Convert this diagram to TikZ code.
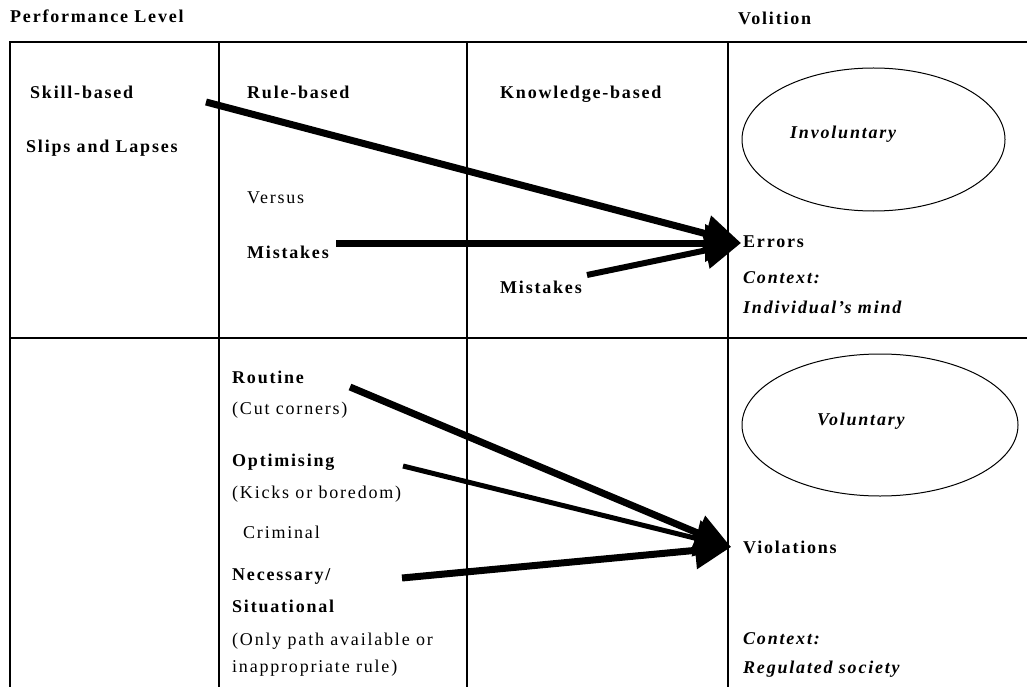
\documentclass[tikz,border=0pt]{standalone}
\usepackage{fontspec}
\setmainfont{Liberation Serif}[LetterSpace=10]
\usetikzlibrary{arrows.meta,shapes.geometric}
\begin{document}
\begin{tikzpicture}[x=1pt,y=-1pt,
  txt/.style={anchor=base west, inner sep=0pt, font=\fontsize{18}{20}\selectfont},
  bt/.style={txt, font=\fontsize{18}{20}\selectfont\bfseries},
  bit/.style={txt, font=\fontsize{18}{20}\selectfont\bfseries\itshape},
  gridline/.style={line width=1.3pt},
  colline/.style={line width=2.2pt},
  arr/.style={-{Triangle[length=36pt,width=36pt]}, line width=7pt},
  oval/.style={ellipse, draw, line width=1pt, inner sep=0pt}]
\useasboundingbox (0,0) rectangle (1027,687);
% table
\draw[gridline] (10,687) -- (10,42) -- (1027,42);
\draw[gridline] (10,338) -- (1027,338);
\draw[colline] (219,42) -- (219,687);
\draw[colline] (467,42) -- (467,687);
\draw[colline] (728,42) -- (728,687);
% ellipses
\node[oval, minimum width=263pt, minimum height=143pt] (inv) at (873.5,139.5) {};
\node[oval, minimum width=276pt, minimum height=142pt] (vol) at (880,425) {};
% texts
\node[bt] (perf) at (10,23) {Performance Level};
\node[bt] (voli) at (738,25) {Volition};
\node[bt] (skill) at (30,99) {Skill-based};
\node[bt] (slips) at (26,153) {Slips and Lapses};
\node[bt] (rule) at (247,99) {Rule-based};
\node[bt] (know) at (500,99) {Knowledge-based};
\node[txt] (versus) at (247,203) {Versus};
\node[bt] (mist1) at (247,258) {Mistakes};
\node[bt] (mist2) at (500,293) {Mistakes};
\node[bit] (invt) at (790,139) {Involuntary};
\node[bt] (err) at (743,247) {Errors};
\node[bit] (ctx1) at (743,283) {Context:};
\node[bit] (ind) at (743,313) {Individual’s mind};
\node[bt] (rout) at (232,383) {Routine};
\node[txt] (cut) at (232,414) {(Cut corners)};
\node[bt] (opt) at (232,466) {Optimising};
\node[txt] (kicks) at (232,498) {(Kicks or boredom)};
\node[txt] (crim) at (243,538) {Criminal};
\node[bt] (nec) at (232,580) {Necessary/};
\node[bt] (sit) at (232,612) {Situational};
\node[txt] (only) at (232,645) {(Only path available or};
\node[txt] (inap) at (232,672) {inappropriate rule)};
\node[bit] (volt) at (817,425) {Voluntary};
\node[bt] (viol) at (743,553) {Violations};
\node[bit] (ctx2) at (743,644) {Context:};
\node[bit] (reg) at (743,673) {Regulated society};
% arrow end points
\coordinate (s1) at (206,102);
\coordinate (s2) at (336,243);
\coordinate (s3) at (587,275);
\coordinate (errtip) at (741,243);
\coordinate (b1) at (350,387);
\coordinate (b2) at (403,466);
\coordinate (b3) at (402,578);
\coordinate (viotip) at (731,547);
\draw[arr] (s1) -- (errtip);
\draw[arr] (s2) -- (errtip);
\draw[arr, line width=6pt] (s3) -- (errtip);
\draw[arr] (b1) -- (viotip);
\draw[arr, line width=5pt] (b2) -- (viotip);
\draw[arr] (b3) -- (viotip);
\end{tikzpicture}
\end{document}
